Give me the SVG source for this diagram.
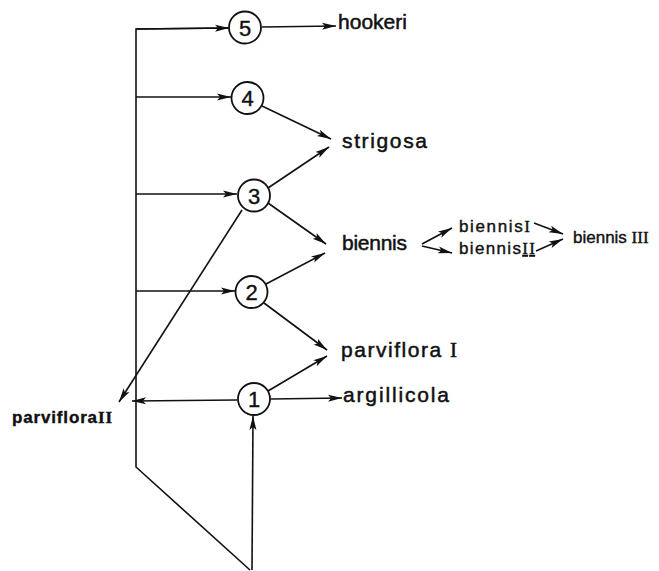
<svg xmlns="http://www.w3.org/2000/svg" width="659" height="571" viewBox="0 0 659 571">
<defs>
<marker id="ah" markerUnits="userSpaceOnUse" markerWidth="16" markerHeight="10" refX="14" refY="5" orient="auto">
<path d="M0,1.5 L14,5 L0,8.5 L3,5 Z" fill="#111"/>
</marker>
<style>
.c{fill:#fff;stroke:#111;stroke-width:1.8}
.n{font-family:"Liberation Sans",Arial,sans-serif;font-size:22px;fill:#111;stroke:#111;stroke-width:0.4;text-anchor:middle}
.t{font-family:"Liberation Sans",Arial,sans-serif;font-size:21px;fill:#111;stroke:#111;stroke-width:0.5}
.s{font-family:"Liberation Sans",Arial,sans-serif;font-size:17px;fill:#111;stroke:#111;stroke-width:0.4}
.r{font-family:"Liberation Serif","Times New Roman",serif}
.l{fill:none;stroke:#111;stroke-width:1.6}
.a{fill:none;stroke:#111;stroke-width:1.6;marker-end:url(#ah)}
</style>
</defs>
<rect width="659" height="571" fill="#fff"/>
<g id="connectors">
<path class="l" d="M228,28 L136,29 L136,467 L250,570"/>
<path class="a" d="M136,29 L229,28"/>
<path class="a" d="M136,97 L231,97"/>
<path class="a" d="M136,194 L237,194"/>
<path class="a" d="M136,291 L235,291"/>
<path class="a" d="M237,400 L132,401"/>
<path class="a" d="M252,570 L253,416"/>
<path class="a" d="M262,27 L336,26"/>
<path class="a" d="M262,106 L331,139"/>
<path class="a" d="M268,188 L329,147"/>
<path class="a" d="M268,203 L326,244"/>
<path class="a" d="M242,210 L119,402"/>
<path class="a" d="M266,284 L325,253"/>
<path class="a" d="M264,303 L327,350"/>
<path class="a" d="M268,391 L327,356"/>
<path class="a" d="M271,399 L342,398"/>
<path class="a" d="M422,244 L452,228"/>
<path class="a" d="M422,246 L452,253"/>
<path class="a" d="M534,223 L563,234"/>
<path class="a" d="M536,251 L563,239"/>
</g>
<g id="n5"><circle class="c" cx="245" cy="27.5" r="16"/><text class="n" x="245" y="35.5">5</text></g>
<g id="n4"><circle class="c" cx="247.5" cy="98" r="16"/><text class="n" x="247.5" y="106">4</text></g>
<g id="n3"><circle class="c" cx="254" cy="195.5" r="16"/><text class="n" x="254" y="203.5">3</text></g>
<g id="n2"><circle class="c" cx="251.5" cy="292" r="16"/><text class="n" x="251.5" y="300">2</text></g>
<g id="n1"><circle class="c" cx="254" cy="399" r="16"/><text class="n" x="254" y="407">1</text></g>
<g id="hookeri"><text class="t" x="338" y="29" font-size="19" textLength="69" lengthAdjust="spacing">hookeri</text></g>
<g id="strigosa"><text class="t" x="342" y="148" textLength="85" lengthAdjust="spacing">strigosa</text></g>
<g id="biennis"><text class="t" x="342" y="250" textLength="65" lengthAdjust="spacing">biennis</text></g>
<g id="biennisI"><text class="s" x="459" y="232" textLength="71" lengthAdjust="spacing">biennis<tspan class="r">I</tspan></text></g>
<g id="biennisII"><text class="s" x="459" y="254" textLength="76" lengthAdjust="spacing">biennis<tspan class="r" text-decoration="underline">II</tspan></text></g>
<g id="biennisIII"><text class="s" x="573" y="243">biennis <tspan class="r">III</tspan></text></g>
<g id="parvifloraI"><text class="t" x="341" y="357" textLength="116" lengthAdjust="spacing">parviflora <tspan class="r">I</tspan></text></g>
<g id="argillicola"><text class="t" x="343" y="402" textLength="106" lengthAdjust="spacing">argillicola</text></g>
<g id="parvifloraII"><text class="s" x="12" y="423" font-weight="bold" textLength="100" lengthAdjust="spacing">parviflora<tspan class="r">II</tspan></text></g>
</svg>
